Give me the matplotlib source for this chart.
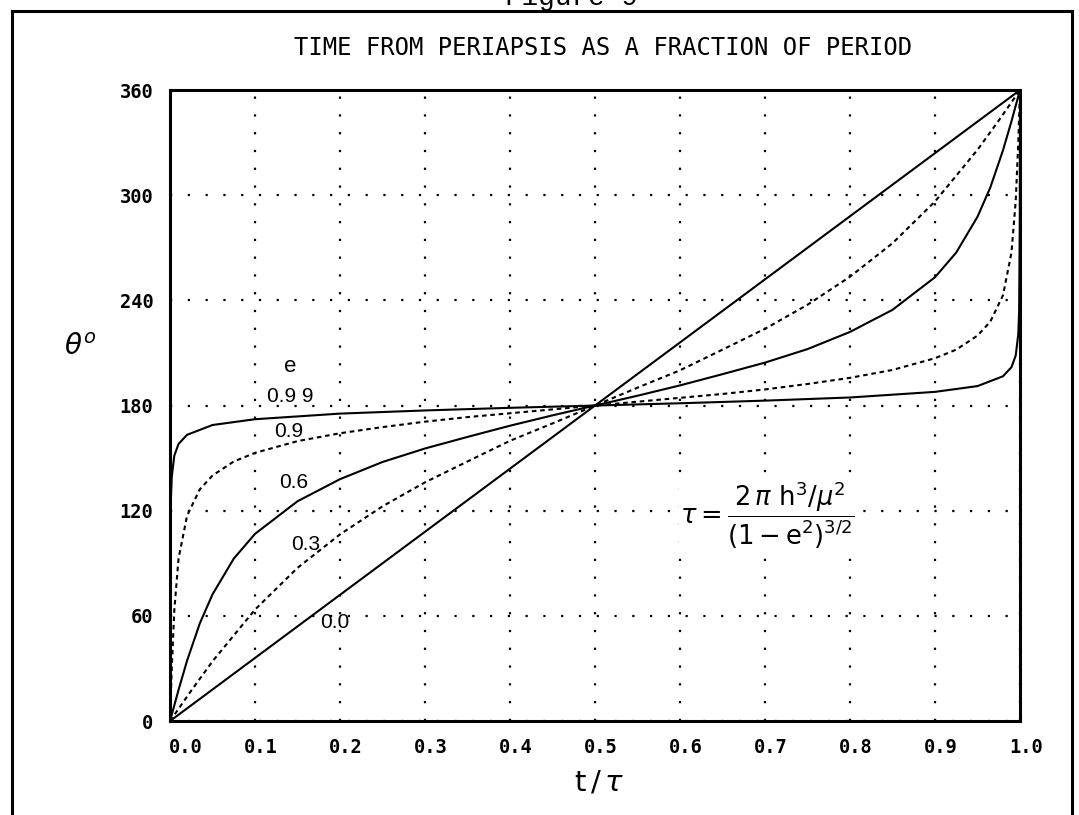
"""
True anomaly vs. time from periapsis, as a fraction of the orbital period.
"""

import matplotlib
matplotlib.use("Agg")
import matplotlib.pyplot as plt
import matplotlib.transforms as mtransforms
from matplotlib.lines import Line2D

# values (t/tau, theta in degrees)
t_e00 = [0.0, 1.0]
theta_e00 = [0, 360]

t_e03 = [0.0, 0.025, 0.05, 0.10, 0.15, 0.20, 0.25, 0.30, 0.35, 0.40, 0.45, 0.50,
         0.55, 0.60, 0.65, 0.70, 0.75, 0.80, 0.85, 0.90, 0.95, 0.975, 1.0]
theta_e03 = [0, 17.4, 34.1, 63.6, 87.4, 106.5, 122.5, 136.2, 148.1, 159.9, 169.8, 180,
             190.2, 200.1, 211.9, 223.8, 237.5, 253.5, 272.6, 296.4, 325.9, 342.6, 360]

t_e06 = [0.0, 0.01, 0.02, 0.035, 0.05, 0.075, 0.10, 0.15, 0.20, 0.25, 0.30, 0.35, 0.40, 0.45, 0.50,
         0.55, 0.60, 0.65, 0.70, 0.75, 0.80, 0.85, 0.90, 0.925, 0.95, 0.965, 0.98, 0.99, 1.0]
theta_e06 = [0, 17.8, 34.4, 55.7, 72.3, 92.7, 106.8, 125.4, 138.0, 147.8, 155.5, 162.1, 168.5, 174.4, 180,
             185.6, 191.5, 197.9, 204.5, 212.2, 222.0, 234.6, 253.2, 267.3, 287.7, 304.3, 325.6, 342.2, 360]

t_e09 = [0.0, 0.002, 0.005, 0.01, 0.02, 0.035, 0.05, 0.075, 0.10, 0.15, 0.20, 0.25, 0.30, 0.35, 0.40,
         0.45, 0.50, 0.55, 0.60, 0.65, 0.70, 0.75, 0.80, 0.85, 0.90, 0.925, 0.95, 0.965, 0.98, 0.99,
         0.995, 0.998, 1.0]
theta_e09 = [0, 30.0, 63.2, 92.7, 117.1, 132.2, 140.1, 148.1, 153.0, 159.7, 164.2, 167.7, 170.8, 173.4, 175.6,
             177.8, 180, 182.2, 184.4, 186.6, 189.2, 192.3, 195.8, 200.3, 207.0, 211.9, 219.9, 227.8, 242.9, 267.3,
             296.8, 330.0, 360]

t_e099 = [0.0, 0.0002, 0.001, 0.002, 0.005, 0.01, 0.02, 0.05, 0.10, 0.20, 0.30, 0.40, 0.50,
          0.60, 0.70, 0.80, 0.90, 0.95, 0.98, 0.99, 0.995, 0.998, 0.999, 0.9998, 1.0]
theta_e099 = [0, 74.0, 126.2, 139.3, 151.4, 158.1, 163.3, 168.9, 172.2, 175.4, 177.2, 178.7, 180,
              181.3, 182.8, 184.6, 187.8, 191.1, 196.7, 201.9, 208.6, 220.7, 233.8, 286.0, 360]

curve_labels = ["0.0", "0.3", "0.6", "0.9", "0.9 9"]
label_x = [0.194, 0.159, 0.145, 0.139, 0.141]
label_y = [56, 101, 136, 165, 185]

x_ticks = [0.0, 0.1, 0.2, 0.3, 0.4, 0.5, 0.6, 0.7, 0.8, 0.9, 1.0]
y_ticks = [0, 60, 120, 180, 240, 300, 360]

mono = "DejaVu Sans Mono"

fig = plt.figure(figsize=(10.79, 8.15), dpi=100)
ax = fig.add_axes([0.1576, 0.1153, 0.7877, 0.7742])

dashed = (0, (2.2, 1.8))
curves = [
    (t_e00, theta_e00, "-"),
    (t_e03, theta_e03, dashed),
    (t_e06, theta_e06, "-"),
    (t_e09, theta_e09, dashed),
    (t_e099, theta_e099, "-"),
]
for t, th, ls in curves:
    ax.plot(t, th, color="black", linestyle=ls, linewidth=1.5, zorder=3)

for lab, lx, ly in zip(curve_labels, label_x, label_y):
    ax.text(lx, ly, lab, fontsize=15, ha="center", va="center",
            family="Liberation Sans", zorder=4)
ax.text(0.141, 202, "e", fontsize=16, ha="center", va="center", family="Liberation Sans")

ax.text(0.703, 117, r"$\tau = \dfrac{2\,\pi\ \mathrm{h}^3/\mu^2}{\left(1-\mathrm{e}^2\right)^{3/2}}$",
        fontsize=18.5, ha="center", va="center",
        bbox=dict(facecolor="white", edgecolor="none", pad=1))

ax.set_xlim(0, 1)
ax.set_ylim(0, 360)
ax.set_xticks(x_ticks)
ax.set_yticks(y_ticks)
ax.set_xticklabels([f"{v:.1f}" for v in x_ticks], family=mono, fontsize=13.5, fontweight="bold")
ax.set_yticklabels([str(v) for v in y_ticks], family=mono, fontsize=13.5, fontweight="bold")
ax.tick_params(length=0, pad=12)
ax.grid(True, color="black", linestyle=(0, (1, 7)), linewidth=1.6)
for s in ax.spines.values():
    s.set_linewidth(2.2)

# x tick labels sit a little to the right of their grid lines
for i, lab in enumerate(ax.get_xticklabels()):
    dx = 16 if i == 0 else 6
    lab.set_transform(lab.get_transform() +
                      mtransforms.ScaledTranslation(dx / 100, 0, fig.dpi_scale_trans))

fig.text(0.559, 0.941, "TIME FROM PERIAPSIS AS A FRACTION OF PERIOD",
         family=mono, fontsize=17.2, ha="center", va="center")
fig.text(0.074, 0.574, r"$\theta^o$", fontsize=20, ha="center", va="center")
fig.text(0.555, 0.040, r"$\mathsf{t}\,/\,\tau$", fontsize=21, ha="center", va="center")

# page frame and clipped caption above it
fig.text(0.53, 0.9935, "Figure 9", family="Liberation Mono", fontsize=20,
         ha="center", va="baseline")
frame = dict(color="black", linewidth=2.2, transform=fig.transFigure)
fig.add_artist(Line2D([0.011, 0.011], [-0.01, 0.9865], **frame))
fig.add_artist(Line2D([0.9935, 0.9935], [-0.01, 0.9865], **frame))
fig.add_artist(Line2D([0.011, 0.9935], [0.9865, 0.9865], **frame))

fig.savefig("out.png", dpi=100)
